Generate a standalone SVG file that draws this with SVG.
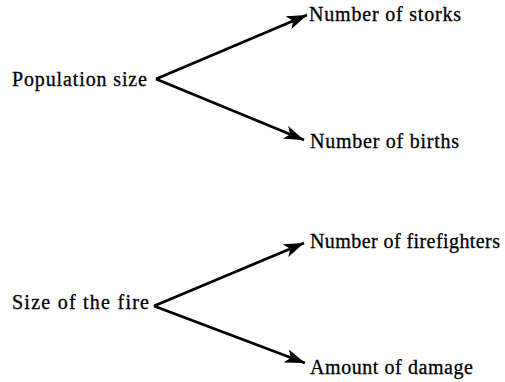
<svg xmlns="http://www.w3.org/2000/svg" width="505" height="382" viewBox="0 0 505 382">
<style>
text{font-family:"Liberation Serif","Times New Roman",serif;font-size:20px;fill:#000;stroke:#000;stroke-width:0.3}
.c line{stroke:#000;stroke-width:2.8;marker-end:url(#ah)}
</style>
<defs>
<marker id="ah" markerUnits="userSpaceOnUse" markerWidth="21" markerHeight="14" refX="20" refY="7" orient="auto">
<path d="M0,0 L20,7 L0,14 L5,7 z" fill="#000"/>
</marker>
</defs>
<rect width="505" height="382" fill="#fff"/>
<g id="population-size"><text x="12" y="86" textLength="135" lengthAdjust="spacing">Population size</text></g>
<g id="number-of-storks"><text x="309" y="21" textLength="152" lengthAdjust="spacing">Number of storks</text></g>
<g id="number-of-births"><text x="310" y="148" textLength="149" lengthAdjust="spacing">Number of births</text></g>
<g id="size-of-fire"><text x="12" y="309" textLength="137" lengthAdjust="spacing">Size of the fire</text></g>
<g id="number-of-firefighters"><text x="310" y="248" textLength="190" lengthAdjust="spacing">Number of firefighters</text></g>
<g id="amount-of-damage"><text x="310" y="374" textLength="163" lengthAdjust="spacing">Amount of damage</text></g>
<g class="c" id="connectors">
<line x1="156" y1="79" x2="307" y2="15"/>
<line x1="156" y1="79" x2="304" y2="140"/>
<line x1="154" y1="306" x2="304" y2="243"/>
<line x1="154" y1="306" x2="305" y2="363"/>
</g>
</svg>
